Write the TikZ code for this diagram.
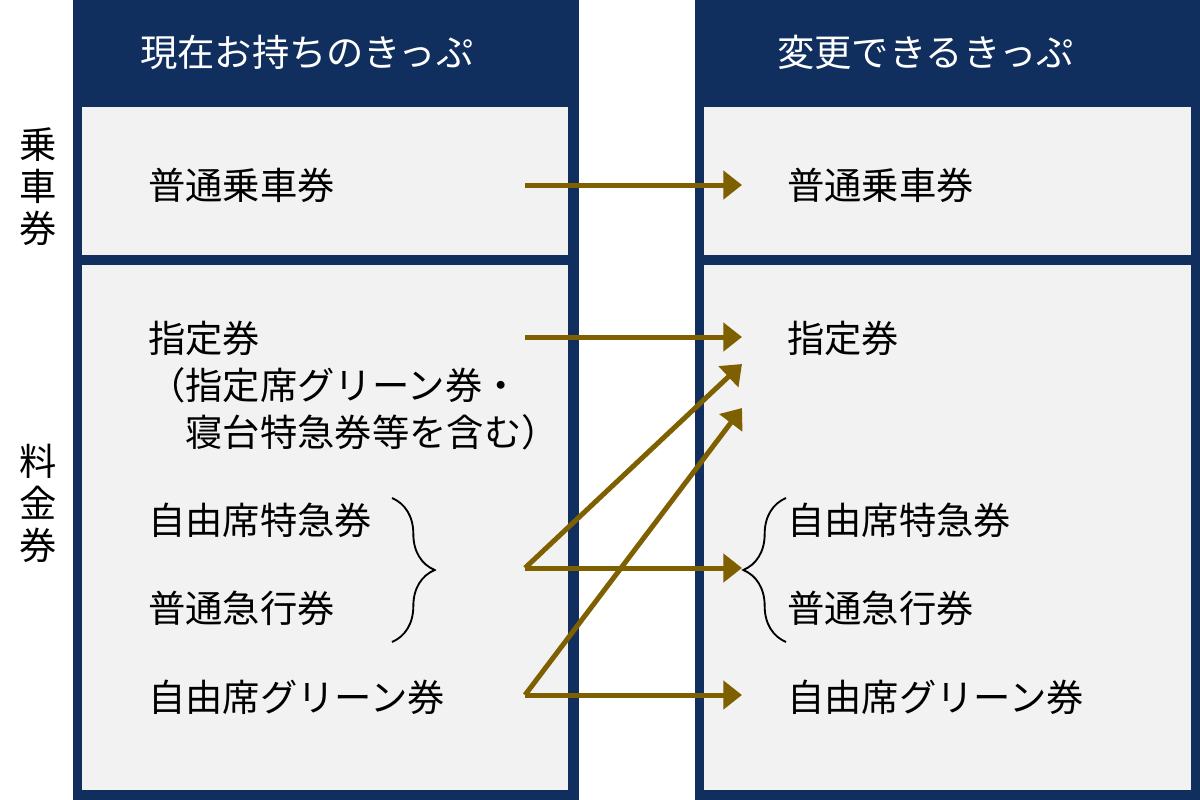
\documentclass[tikz,border=0pt]{standalone}
\usepackage{fontspec}
\newfontfamily\jpfont{Noto Sans CJK JP}
\usetikzlibrary{arrows.meta,decorations.pathreplacing}

\definecolor{navy}{RGB}{17,47,94}
\definecolor{panel}{RGB}{242,242,242}
\definecolor{arrowgold}{RGB}{127,96,0}

\def \arrowWidth {3.75pt}

\tikzset{
  item/.style={anchor=west, inner sep=0pt, font=\jpfont\fontsize{28}{35}\selectfont},
  head/.style={item, text=white},
  side/.style={inner sep=0pt, align=center, font=\jpfont\fontsize{28}{31.5}\selectfont},
  change/.style={draw=arrowgold, line width=\arrowWidth, -{Triangle[length=14pt,width=21pt]}},
  brace/.style={decorate, decoration={brace, amplitude=32pt}, line width=1.4pt},
}

\begin{document}
\begin{tikzpicture}[x=0.75pt,y=-0.75pt]
  \useasboundingbox (0,0) rectangle (1200,800);
  \fill[white] (0,0) rectangle (1200,800);

  \fill[navy] (73,0) rectangle (579,800);
  \fill[navy] (695,0) rectangle (1200,800);
  \fill[panel] (82,107) rectangle (568,255);
  \fill[panel] (82,265) rectangle (568,790);
  \fill[panel] (704,107) rectangle (1191,255);
  \fill[panel] (704,265) rectangle (1191,790);

  \node[head] (headNow) at (140,52) {現在お持ちのきっぷ};
  \node[head] (headNew) at (777,52) {変更できるきっぷ};

  \node[side] (sideFare) at (38,187) {乗\\車\\券};
  \node[side] (sideCharge) at (38,503) {料\\金\\券};

  \node[item] (nowFare) at (148,185) {普通乗車券};
  \node[item] (nowRes) at (148,338) {指定券};
  \node[item, align=left] (nowResNote) at (148,409) {（指定席グリーン券・\\　寝台特急券等を含む）};
  \node[item] (nowLtd) at (148,520) {自由席特急券};
  \node[item] (nowExp) at (148,608) {普通急行券};
  \node[item] (nowGrn) at (148,697) {自由席グリーン券};

  \node[item] (newFare) at (787,185) {普通乗車券};
  \node[item] (newRes) at (787,338) {指定券};
  \node[item] (newLtd) at (787,520) {自由席特急券};
  \node[item] (newExp) at (787,608) {普通急行券};
  \node[item] (newGrn) at (787,697) {自由席グリーン券};

  \coordinate (braceNowTop) at (392,498);
  \coordinate (braceNowBot) at (392,642);
  \coordinate (braceNewTop) at (786,498);
  \coordinate (braceNewBot) at (786,642);
  \draw[brace] (braceNowTop) -- (braceNowBot);
  \draw[brace] (braceNewBot) -- (braceNewTop);

  \coordinate (fromFare) at (525,185);
  \coordinate (toFare) at (742,185);
  \coordinate (fromRes) at (525,337);
  \coordinate (toRes) at (742,337);
  \coordinate (fromExp) at (525,568);
  \coordinate (toExp) at (742,568);
  \coordinate (fromGrn) at (525,695);
  \coordinate (toGrn) at (742,695);
  \coordinate (toResA) at (742,364);
  \coordinate (toResB) at (742,408);

  \draw[change] (fromFare) -- (toFare);
  \draw[change] (fromRes) -- (toRes);
  \draw[change] (fromExp) -- (toResA);
  \draw[change] (fromGrn) -- (toResB);
  \draw[change] (fromExp) -- (toExp);
  \draw[change] (fromGrn) -- (toGrn);
\end{tikzpicture}
\end{document}
